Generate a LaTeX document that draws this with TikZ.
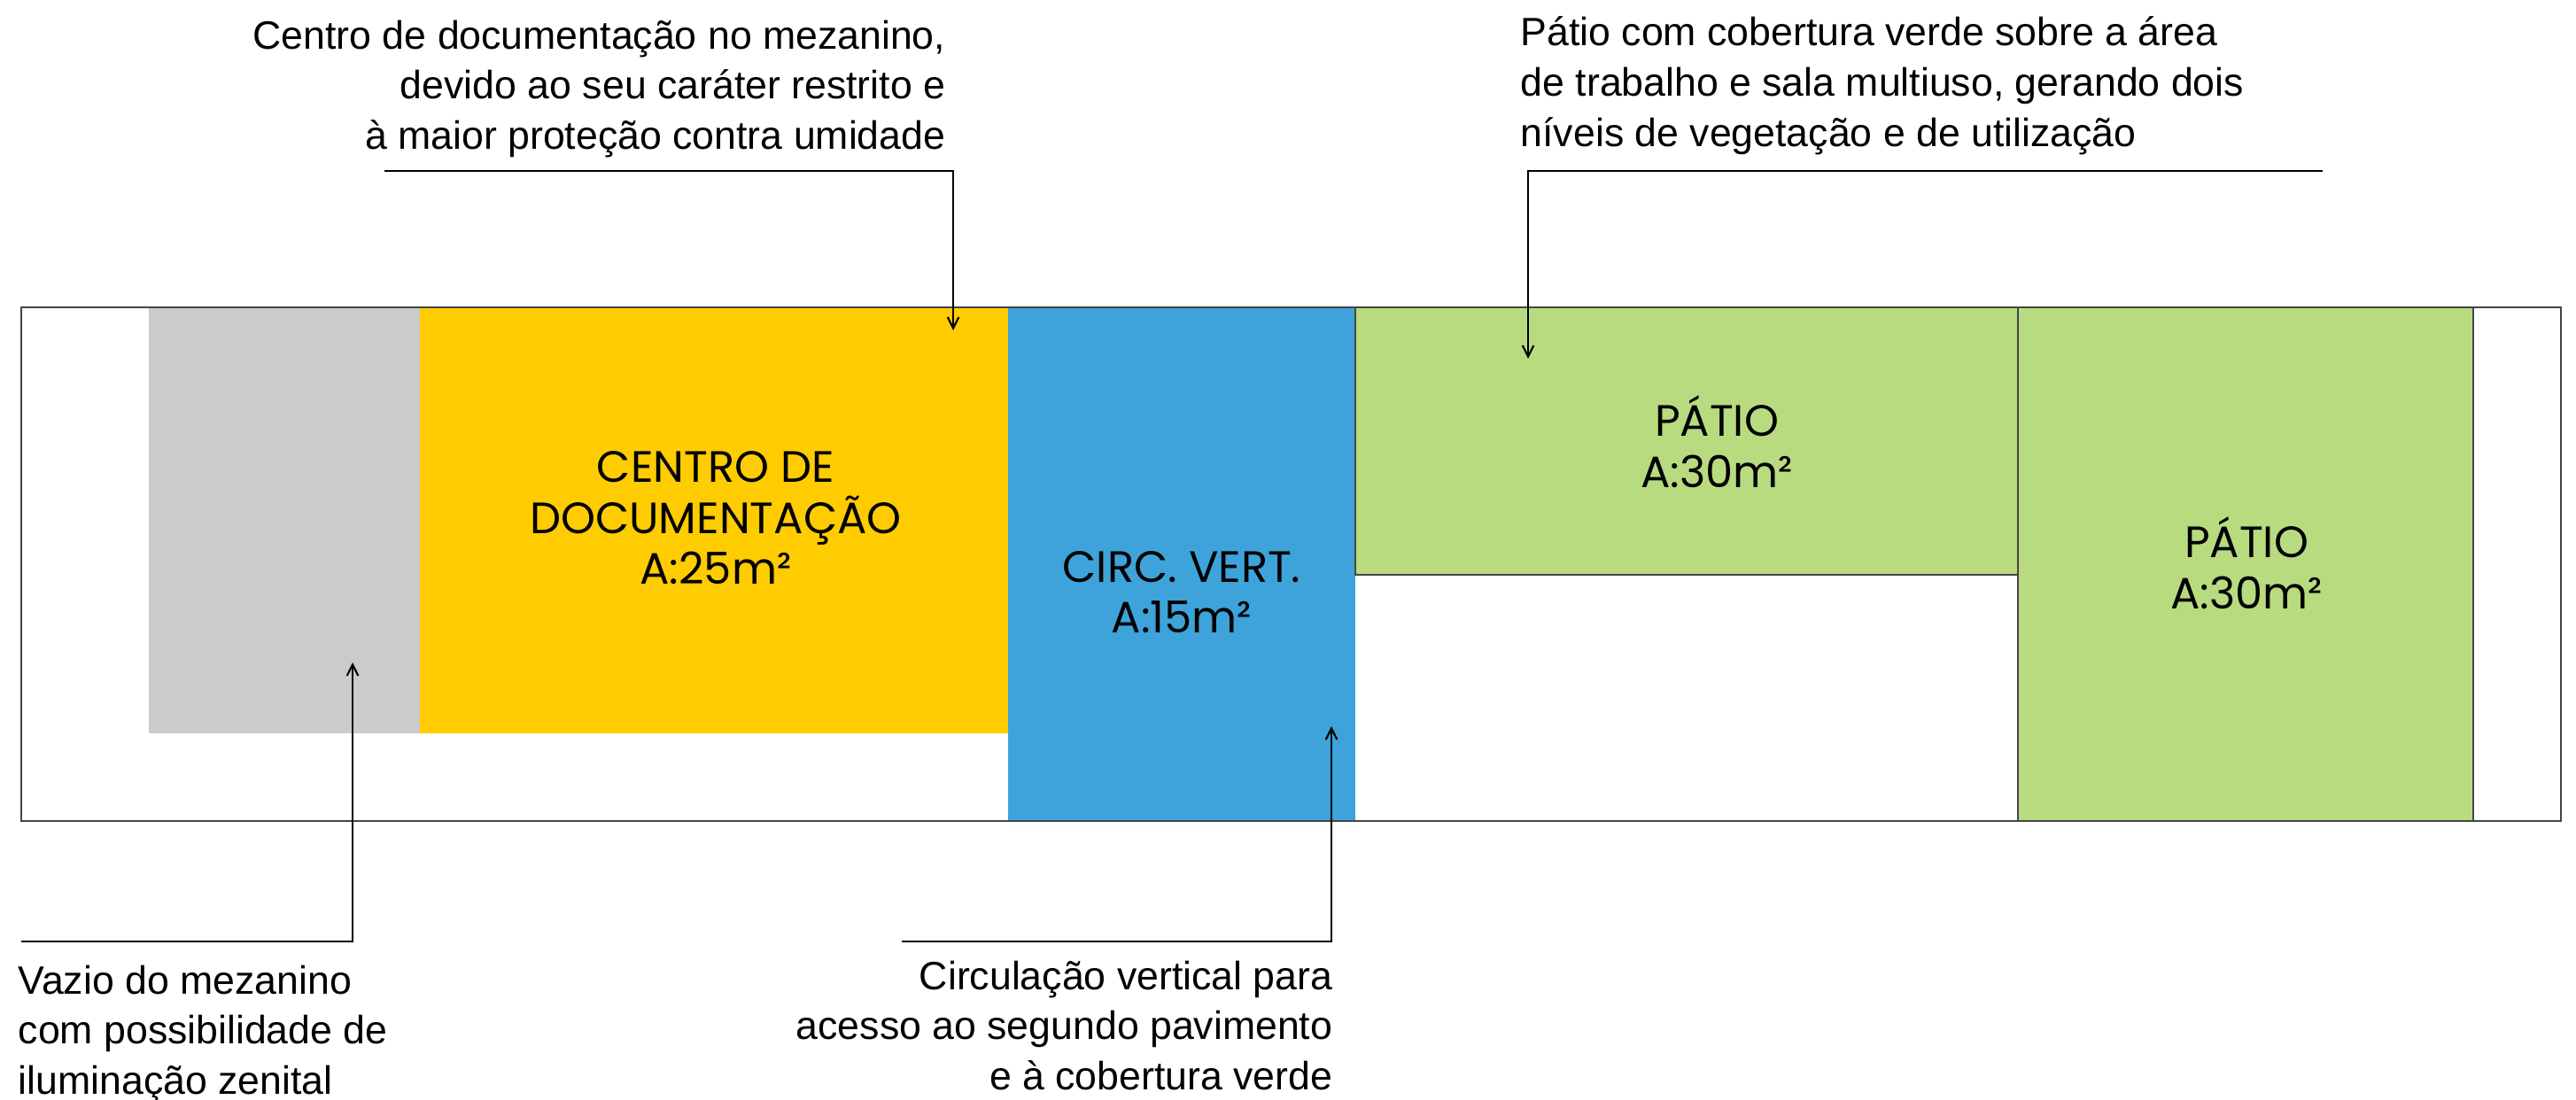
\documentclass[tikz,border=0pt]{standalone}
\usepackage{fontspec}
\setmainfont{Liberation Sans}
\newfontfamily\roomfont{Poppins}
\usetikzlibrary{arrows.meta,positioning}

\definecolor{vaziogray}{HTML}{CBCBCB}
\definecolor{docyellow}{HTML}{FECC00}
\definecolor{circblue}{HTML}{3DA3DA}
\definecolor{patiogreen}{HTML}{B9DB80}
\definecolor{edgegray}{HTML}{454545}

\tikzset{
    roomlabel/.style={font={\roomfont\fontsize{14.1}{16.4}\selectfont}, align=center, inner sep=0pt},
    note/.style={font={\fontsize{12.7}{16.2}\selectfont}, inner sep=0pt},
    leader/.style={line width=0.6pt, -{Straight Barb[length=3.6pt,width=3.6pt]}},
    patioroom/.style={fill=patiogreen, draw=edgegray, line width=0.4pt}
}

\begin{document}
\begin{tikzpicture}
            \useasboundingbox (0,0) rectangle (29.08,12.41);
            % ambientes
            \fill[vaziogray] (1.68,4.13) rectangle (4.74,8.94);
            \fill[docyellow] (4.74,4.13) rectangle (11.38,8.94);
            \fill[circblue] (11.38,3.14) rectangle (15.30,8.94);
            \draw[patioroom] (15.30,5.92) rectangle (22.78,8.94);
            \draw[patioroom] (22.78,3.14) rectangle (27.92,8.94);
            \draw[edgegray, line width=0.7pt] (0.24,3.14) rectangle (28.91,8.94);

            \node[roomlabel] (doc) at (8.08,6.56) {CENTRO DE\\DOCUMENTAÇÃO\\A:25m²};
            \node[roomlabel] (circ) at (13.34,5.725) {CIRC. VERT.\\A:15m²};
            \node[roomlabel] (patioA) at (19.38,7.425) {PÁTIO\\A:30m²};
            \node[roomlabel] (patioB) at (25.36,6.055) {PÁTIO\\A:30m²};

            % notas
            \node[note, anchor=north east, align=right] (docnote) at (10.68,12.19)
                {Centro de documentação no mezanino,\\devido ao seu caráter restrito e\\à maior proteção contra umidade};
            \node[note, anchor=north west, align=left] (patnote) at (17.16,12.23)
                {Pátio com cobertura verde sobre a área\\de trabalho e sala multiuso, gerando dois\\níveis de vegetação e de utilização};
            \node[note, anchor=north west, align=left] (vaznote) at (0.20,1.52)
                {Vazio do mezanino\\com possibilidade de\\iluminação zenital};
            \node[note, anchor=north east, align=right] (circnote) at (15.05,1.57)
                {Circulação vertical para\\acesso ao segundo pavimento\\e à cobertura verde};

            \coordinate (docL) at (4.34,10.48);
            \coordinate (docT) at (10.76,8.68);
            \coordinate (patR) at (26.22,10.48);
            \coordinate (patT) at (17.25,8.36);
            \coordinate (vazL) at (0.245,1.78);
            \coordinate (vazT) at (3.98,4.93);
            \coordinate (circL) at (10.18,1.78);
            \coordinate (circT) at (15.03,4.21);
            \draw[leader] (docL) -| (docT);
            \draw[leader] (patR) -| (patT);
            \draw[leader] (vazL) -| (vazT);
            \draw[leader] (circL) -| (circT);
\end{tikzpicture}
\end{document}
